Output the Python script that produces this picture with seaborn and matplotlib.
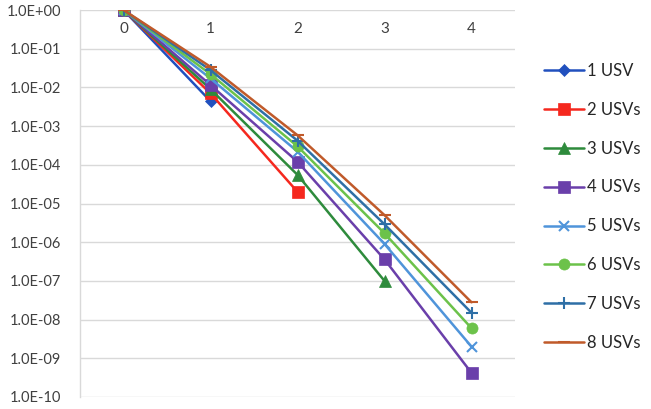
import matplotlib
matplotlib.use("Agg")
import matplotlib.pyplot as plt
import matplotlib.ticker as mticker
import seaborn as sns
import pandas as pd
import numpy as np

steps = [0, 1, 2, 3, 4]
series_names = ["1 USV", "2 USVs", "3 USVs", "4 USVs", "5 USVs", "6 USVs", "7 USVs", "8 USVs"]
usv1 = [1.0, 4.4e-3]
usv2 = [1.0, 7.0e-3, 2.0e-5]
usv3 = [1.0, 9.0e-3, 5.5e-5, 1.0e-7]
usv4 = [1.0, 1.15e-2, 1.2e-4, 3.6e-7, 4.2e-10]
usv5 = [1.0, 1.7e-2, 2.2e-4, 9.0e-7, 2.0e-9]
usv6 = [1.0, 2.2e-2, 3.0e-4, 1.7e-6, 6.0e-9]
usv7 = [1.0, 2.8e-2, 4.2e-4, 2.9e-6, 1.5e-8]
usv8 = [1.0, 3.4e-2, 5.8e-4, 5.0e-6, 2.8e-8]
all_values = [usv1, usv2, usv3, usv4, usv5, usv6, usv7, usv8]

colors = ["#2150BE", "#F5281E", "#2E8B3C", "#6A3FAA", "#4F94DA", "#6CC24A", "#2E6FA6", "#C05A2A"]
marker_list = ["D", "s", "^", "s", "x", "o", "+", "_"]
marker_sizes = [6, 8, 8, 8, 7, 8, 8, 8]

rows = []
for name, vals in zip(series_names, all_values):
    for x, v in zip(steps, vals):
        rows.append({"step": x, "value": v, "series": name})
df = pd.DataFrame(rows)

sns.set_style("white")
plt.rcParams["font.family"] = ["Lato", "DejaVu Sans"]

fig = plt.figure(figsize=(6.51, 4.09), dpi=100)
ax = fig.add_axes([80/651, 1-397/409, 435/651, 387/409])

for name, vals, c, m, ms in zip(series_names, all_values, colors, marker_list, marker_sizes):
    sub = df[df["series"] == name]
    sns.lineplot(data=sub, x="step", y="value", ax=ax, color=c, marker=m,
                 markersize=ms, linewidth=1.8, markeredgecolor=c,
                 markeredgewidth=1.5 if m in ("x", "+", "_") else 0.5,
                 label=name, legend=False, zorder=3)

ax.set_yscale("log")
ax.set_ylim(1e-10, 1.0)
ax.set_xlim(-0.5, 4.5)
ax.set_yticks([10.0**k for k in range(-10, 1)])
ax.yaxis.set_minor_locator(mticker.NullLocator())
ax.set_yticklabels(["1.0E-10", "1.0E-09", "1.0E-08", "1.0E-07", "1.0E-06", "1.0E-05",
                    "1.0E-04", "1.0E-03", "1.0E-02", "1.0E-01", "1.0E+00"])
ax.set_xticks(steps)
ax.set_xticklabels([str(s) for s in steps])
ax.xaxis.set_ticks_position("top")
ax.tick_params(axis="x", top=False, bottom=False, labeltop=True, labelbottom=False,
               pad=-22, labelsize=11, colors="#404040")
ax.tick_params(axis="y", left=False, labelsize=10.5, colors="#404040", pad=10)
ax.set_xlabel("")
ax.set_ylabel("")
ax.grid(axis="y", color="#D9D9D9", linewidth=1)
ax.grid(axis="x", visible=False)
for s in ["right", "bottom", "top"]:
    ax.spines[s].set_visible(False)
ax.spines["left"].set_color("#D9D9D9")
ax.spines["left"].set_linewidth(1)

handles, labels = ax.get_legend_handles_labels()
leg = fig.legend(handles, labels, loc="upper left", bbox_to_anchor=(529/651, 1-48/409),
                 frameon=False, fontsize=12, labelspacing=1.37, handlelength=2.4,
                 handletextpad=0.2)
for t in leg.get_texts():
    t.set_color("#262626")

fig.savefig("out.png", dpi=100)
